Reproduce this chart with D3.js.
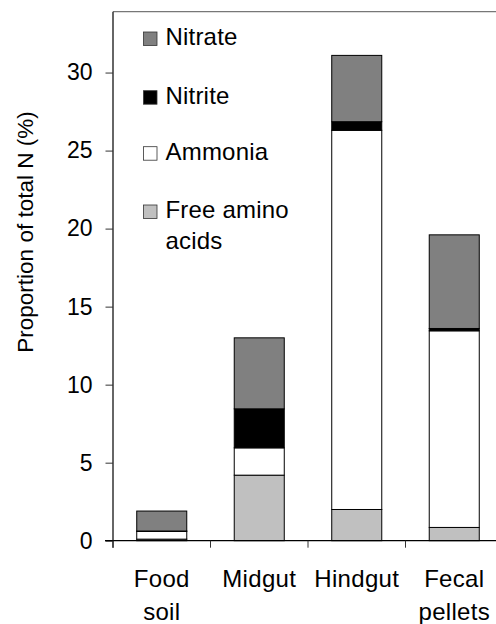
<!DOCTYPE html>
<html>
<head>
<meta charset="utf-8">
<script src="https://cdn.jsdelivr.net/npm/d3@7"></script>
<style>
  html, body { margin: 0; padding: 0; background: #fff; }
  svg { display: block; font-family: "Liberation Sans", Arial, sans-serif; }
</style>
</head>
<body>
<svg id="chart" width="496" height="624"></svg>
<script>
// Sample sources and their nitrogen fractions (% of total N)
const categories = ["Food soil", "Midgut", "Hindgut", "Fecal pellets"];
const categoryLines = [["Food", "soil"], ["Midgut"], ["Hindgut"], ["Fecal", "pellets"]];
const seriesNames = ["Free amino acids", "Ammonia", "Nitrite", "Nitrate"];
const freeAminoAcids = [0.1, 4.2, 2.0, 0.85];
const ammonia = [0.5, 1.75, 24.3, 12.6];
const nitrite = [0.02, 2.5, 0.55, 0.15];
const nitrate = [1.28, 4.55, 4.25, 6.0];
const yTicks = [0, 5, 10, 15, 20, 25, 30];

const fills = {
  "Free amino acids": "#c0c0c0",
  "Ammonia": "#ffffff",
  "Nitrite": "#000000",
  "Nitrate": "#808080"
};

const rows = categories.map((c, i) => ({
  category: c,
  "Free amino acids": freeAminoAcids[i],
  "Ammonia": ammonia[i],
  "Nitrite": nitrite[i],
  "Nitrate": nitrate[i]
}));

const svg = d3.select("#chart");
const plotLeft = 113, plotRight = 503, plotTop = 11.7, plotBottom = 540.7;

const x = d3.scaleBand().domain(categories).range([plotLeft, plotRight]).paddingInner(0.487).paddingOuter(0.2435);
const y = d3.scaleLinear().domain([0, 33.9]).range([plotBottom, plotTop]);

const stack = d3.stack().keys(seriesNames)(rows);

// Stacked bars
svg.append("g").selectAll("g")
  .data(stack).join("g")
  .attr("fill", d => fills[d.key])
  .selectAll("rect")
  .data(d => d).join("rect")
  .attr("x", d => x(d.data.category))
  .attr("width", x.bandwidth())
  .attr("y", d => y(d[1]))
  .attr("height", d => y(d[0]) - y(d[1]))
  .attr("stroke", "#000")
  .attr("stroke-width", 1);

// Top frame line
svg.append("line")
  .attr("x1", plotLeft).attr("x2", 496)
  .attr("y1", plotTop).attr("y2", plotTop)
  .attr("stroke", "#777").attr("stroke-width", 1.2);

// Y axis
const yAxis = svg.append("g")
  .attr("transform", `translate(${plotLeft},0)`)
  .call(d3.axisLeft(y).tickValues(yTicks).tickSize(7.5).tickPadding(13).tickSizeOuter(0));
yAxis.select(".domain").attr("d", `M0,${plotTop}V${plotBottom + 7}`).attr("stroke", "#333").attr("stroke-width", 1.5);
yAxis.selectAll(".tick line").attr("stroke", "#333").attr("stroke-width", 1);
yAxis.selectAll(".tick text").attr("font-size", 23).attr("fill", "#000")
  .attr("font-family", "Liberation Sans, Arial, sans-serif");

// X axis baseline with category dividers
const bounds = categories.map(c => x(c) - x.step() * x.paddingInner() / 2);
svg.append("line")
  .attr("x1", plotLeft - 8).attr("x2", 496)
  .attr("y1", plotBottom).attr("y2", plotBottom)
  .attr("stroke", "#000").attr("stroke-width", 1.2);
svg.append("g").selectAll("line")
  .data(bounds).join("line")
  .attr("x1", d => d).attr("x2", d => d)
  .attr("y1", plotBottom).attr("y2", plotBottom + 7)
  .attr("stroke", "#333").attr("stroke-width", 1);

// Category labels
const labels = svg.append("g").attr("font-size", 24).attr("letter-spacing", 0.3).attr("text-anchor", "middle");
categories.forEach((c, i) => {
  const cx = x(c) + x.bandwidth() / 2;
  categoryLines[i].forEach((line, j) => {
    labels.append("text").attr("x", cx).attr("y", 586.5 + j * 33).text(line);
  });
});

// Y axis title
svg.append("text")
  .attr("transform", `translate(33,232) rotate(-90)`)
  .attr("text-anchor", "middle")
  .attr("font-size", 22.5)
  .text("Proportion of total N (%)");

// Legend (top to bottom: Nitrate, Nitrite, Ammonia, Free amino acids)
const legendItems = [
  { key: "Nitrate", lines: ["Nitrate"], y: 32 },
  { key: "Nitrite", lines: ["Nitrite"], y: 90.7 },
  { key: "Ammonia", lines: ["Ammonia"], y: 146.7 },
  { key: "Free amino acids", lines: ["Free amino", "acids"], y: 205 }
];
const legend = svg.append("g");
legendItems.forEach(item => {
  legend.append("rect")
    .attr("x", 143.5).attr("y", item.y)
    .attr("width", 13.5).attr("height", 13.5)
    .attr("fill", fills[item.key])
    .attr("stroke", "#333").attr("stroke-width", 0.8);
  item.lines.forEach((line, j) => {
    legend.append("text")
      .attr("x", 165.5).attr("y", item.y + 13 + j * 31)
      .attr("font-size", 24).attr("letter-spacing", 0.2)
      .text(line);
  });
});
</script>
</body>
</html>
